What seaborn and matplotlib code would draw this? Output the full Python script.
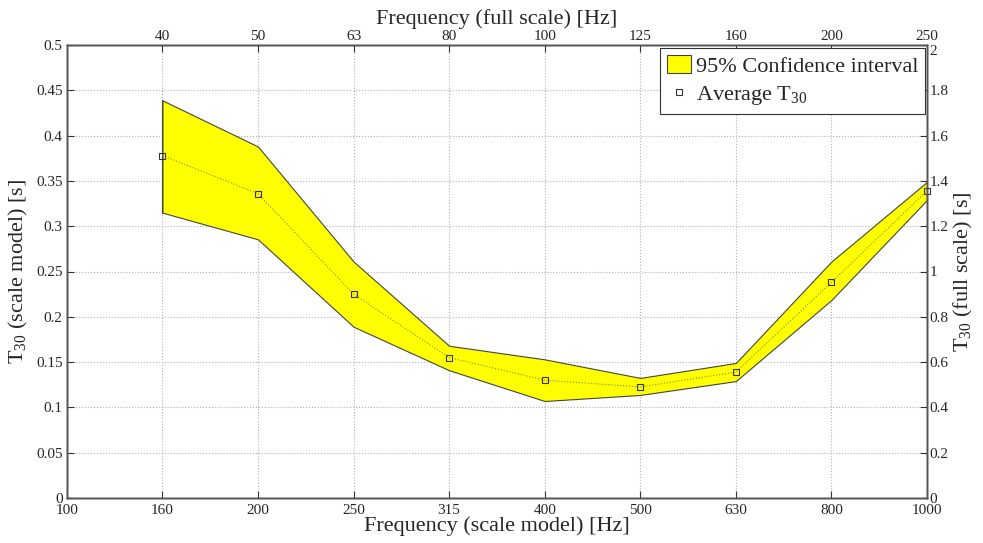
import matplotlib
matplotlib.use('Agg')
import matplotlib.pyplot as plt
import numpy as np
import pandas as pd
import seaborn as sns
from matplotlib.patches import Patch
from matplotlib.lines import Line2D

# tick labels (bands are evenly spaced on the axis)
freq_model = ['100', '160', '200', '250', '315', '400', '500', '630', '800', '1000']
freq_full = ['40', '50', '63', '80', '100', '125', '160', '200', '250']

# measured T30 (scale model) per band 160..1000 Hz
t30_avg = [0.378, 0.336, 0.225, 0.155, 0.130, 0.1225, 0.139, 0.238, 0.339]
ci_upper = [0.439, 0.388, 0.261, 0.168, 0.153, 0.1325, 0.149, 0.261, 0.349]
ci_lower = [0.315, 0.2855, 0.189, 0.141, 0.107, 0.1137, 0.129, 0.2185, 0.329]

sns.set_style('white')
plt.rcParams['font.family'] = ['Liberation Serif', 'DejaVu Serif']
plt.rcParams['mathtext.fontset'] = 'custom'
plt.rcParams['mathtext.rm'] = 'Liberation Serif'
plt.rcParams['mathtext.it'] = 'Liberation Serif:italic'

pos = [freq_model.index(f) for f in freq_model[1:]]
df = pd.DataFrame({'pos': pos, 'avg': t30_avg, 'lo': ci_lower, 'hi': ci_upper})

fig = plt.figure(figsize=(9.83, 5.43), dpi=100)
ax = fig.add_axes([0.068, 0.083, 0.875, 0.834])

edge = '#444444'
ax.fill_between(df['pos'], df['lo'], df['hi'], facecolor='#ffff00', edgecolor=edge, linewidth=0.8, zorder=2)
ax.plot([df['pos'].iloc[0]] * 2, [df['lo'].iloc[0], df['hi'].iloc[0]], color=edge, lw=0.8, zorder=2)
sns.lineplot(data=df, x='pos', y='avg', ax=ax, color='#8a8a30', linestyle=':', linewidth=0.8,
             marker='s', markersize=4.5, markerfacecolor='none', markeredgecolor='#333333',
             markeredgewidth=0.8, zorder=3, clip_on=False)

ax.set_xlim(0, len(freq_model) - 1)
ax.set_ylim(0, 0.5)
ax.set_xticks(range(len(freq_model)))
ax.set_xticklabels(freq_model)
ax.set_yticks(np.arange(0, 0.501, 0.05))
ax.set_yticklabels(['0', '0.05', '0.1', '0.15', '0.2', '0.25', '0.3', '0.35', '0.4', '0.45', '0.5'])
ax.grid(True, linestyle=':', color='#b0b0b0', linewidth=0.8)
ax.set_axisbelow(True)
ax.set_xlabel('Frequency (scale model) [Hz]', fontsize=16, labelpad=-1)
ax.set_ylabel(r'T$_{30}$ (scale model) [s]', fontsize=16, labelpad=4)
ax.tick_params(direction='in', labelsize=11, length=5, color='#333333', pad=3)
ax.tick_params(axis='x', pad=4.5)

# top axis: full-scale frequencies
ax_top = ax.twiny()
ax_top.set_xlim(ax.get_xlim())
ax_top.set_xticks(pos)
ax_top.set_xticklabels(freq_full)
ax_top.set_xlabel('Frequency (full scale) [Hz]', fontsize=16, labelpad=4)
ax_top.tick_params(direction='in', labelsize=11, length=5, color='#333333', pad=1.5)

# right axis: full-scale T30 (x4)
ax_r = ax.twinx()
ax_r.set_ylim(0, 2)
ax_r.set_yticks(np.arange(0, 2.01, 0.2))
ax_r.set_yticklabels(['0', '0.2', '0.4', '0.6', '0.8', '1', '1.2', '1.4', '1.6', '1.8', '2'])
ax_r.get_yticklabels()[-1].set_va('top')
ax_r.set_ylabel(r'T$_{30}$ (full scale) [s]', fontsize=16, labelpad=2)
ax_r.tick_params(direction='in', labelsize=11, length=5, color='#333333', pad=2)

for a in (ax, ax_top, ax_r):
    for s in a.spines.values():
        s.set_color('#555555')
        s.set_linewidth(1.0)

handles = [Patch(facecolor='#ffff00', edgecolor=edge, linewidth=0.8),
           Line2D([], [], linestyle='none', marker='s', markersize=4, markerfacecolor='none',
                  markeredgecolor='#333333', markeredgewidth=0.8)]
leg = ax_r.legend(handles, ['95% Confidence interval', r'Average T$_{30}$'], loc='upper right',
                  bbox_to_anchor=(0.9975, 0.993), fontsize=16, frameon=True, fancybox=False,
                  framealpha=1, edgecolor='#333333', borderpad=0.3, handlelength=1.1,
                  handleheight=0.9, handletextpad=0.2, labelspacing=0.3, borderaxespad=0)
leg.get_frame().set_linewidth(0.8)

fig.savefig('out.png', dpi=100)
